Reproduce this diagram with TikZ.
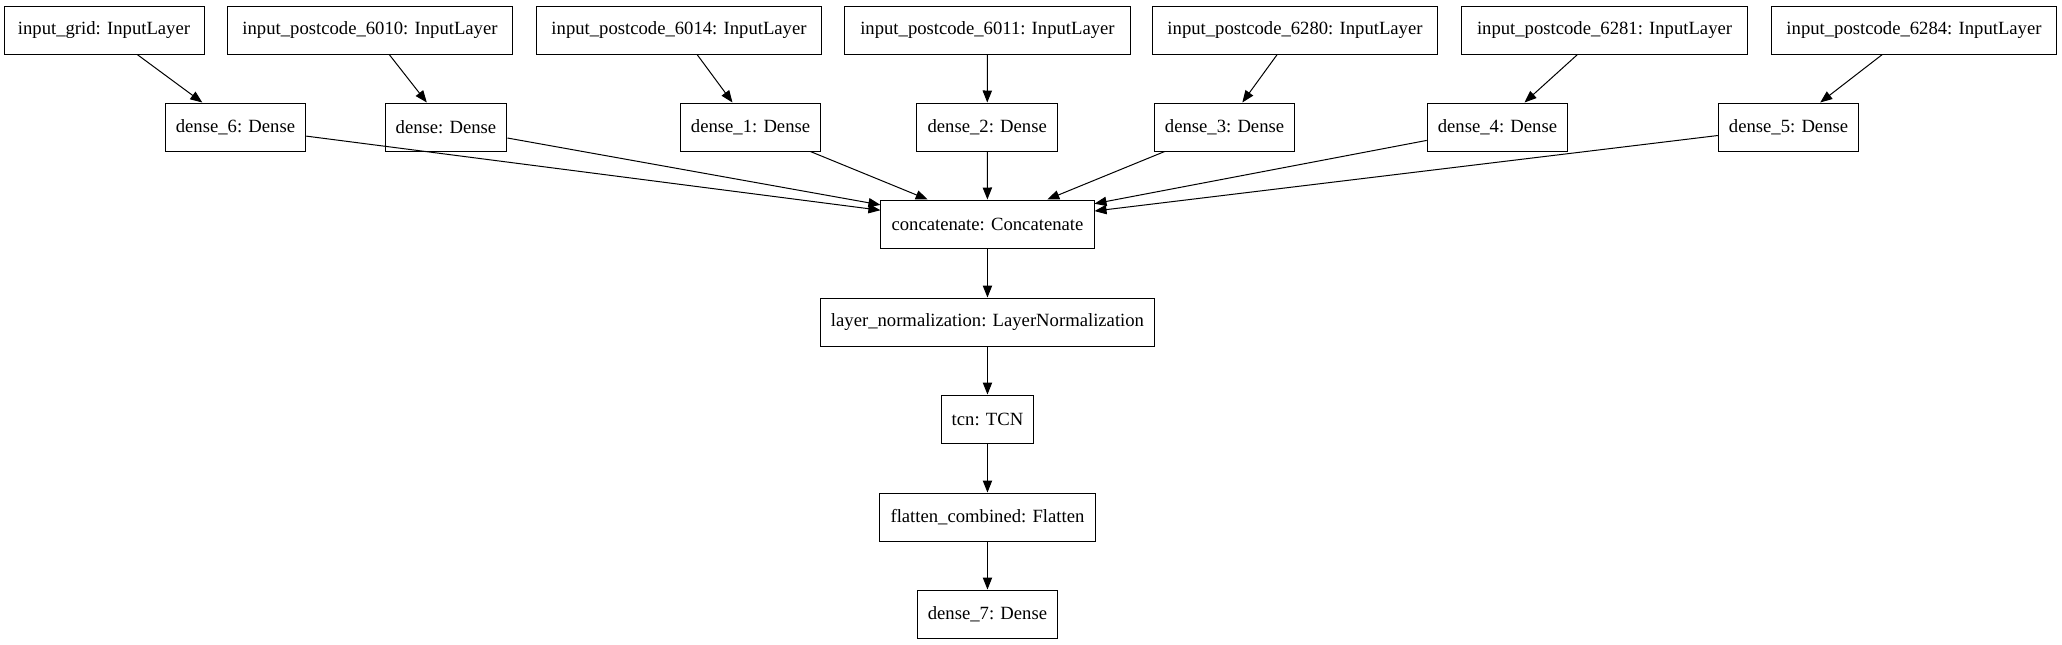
\documentclass[tikz,border=0pt]{standalone}
\usepackage{fontspec}
\setmainfont{Liberation Serif}
\usetikzlibrary{arrows.meta,positioning}

\begin{document}
\begin{tikzpicture}[>={Triangle[length=9pt,width=7pt]},on grid,line width=0.75pt,
		font=\fontsize{14}{16}\selectfont,
		layer/.style={draw,rectangle,minimum height=36pt,inner xsep=8pt},
		inlayer/.style={layer,minimum width=214pt}]
		\useasboundingbox (0,0) rectangle (1546.5pt,-483pt);
		% inputs
		\node[layer,minimum width=150pt]         (in_grid)   at (78pt,-22.5pt) {input\_grid: InputLayer};
		\node[inlayer]         (in_6010)   [right=199.5pt of in_grid] {input\_postcode\_6010: InputLayer};
		\node[inlayer]         (in_6014)   [right=231.75pt of in_6010] {input\_postcode\_6014: InputLayer};
		\node[inlayer]         (in_6011)   [right=231.35pt of in_6014] {input\_postcode\_6011: InputLayer};
		\node[inlayer]         (in_6280)   [right=230.65pt of in_6011] {input\_postcode\_6280: InputLayer};
		\node[inlayer]         (in_6281)   [right=232.15pt of in_6280] {input\_postcode\_6281: InputLayer};
		\node[inlayer]         (in_6284)   [right=232.1pt of in_6281] {input\_postcode\_6284: InputLayer};
		% dense
		\node[layer]         (d_6)   at (176.6pt,-95.25pt) {dense\_6: Dense};
		\node[layer]         (d_0)   at (334.5pt,-95.25pt) {dense: Dense};
		\node[layer]         (d_1)   at (562.9pt,-95.25pt) {dense\_1: Dense};
		\node[layer]         (d_2)   at (740.4pt,-95.25pt) {dense\_2: Dense};
		\node[layer]         (d_3)   at (918.4pt,-95.25pt) {dense\_3: Dense};
		\node[layer]         (d_4)   at (1123.1pt,-95.25pt) {dense\_4: Dense};
		\node[layer]         (d_5)   at (1341.4pt,-95.25pt) {dense\_5: Dense};
		% chain
		\node[layer]         (concat)   at (740.6pt,-168pt) {concatenate: Concatenate};
		\node[layer]         (norm)   [below=73.5pt of concat] {layer\_normalization: LayerNormalization};
		\node[layer]         (tcn)   [below=72.75pt of norm] {tcn: TCN};
		\node[layer]         (flat)   [below=73.5pt of tcn] {flatten\_combined: Flatten};
		\node[layer]         (d_7)   [below=72.75pt of flat] {dense\_7: Dense};
		
		\path[->]            (in_grid) edge (d_6)
		(in_6010) edge (d_0)
		(in_6014) edge (d_1)
		(in_6011) edge (d_2)
		(in_6280) edge (d_3)
		(in_6281) edge (d_4)
		(in_6284) edge (d_5)
		(d_6) edge (concat)
		(d_0) edge (concat)
		(d_1) edge (concat)
		(d_2) edge (concat)
		(d_3) edge (concat)
		(d_4) edge (concat)
		(d_5) edge (concat)
		(concat) edge (norm)
		(norm) edge (tcn)
		(tcn) edge (flat)
		(flat) edge (d_7);
	\end{tikzpicture}
\end{document}
